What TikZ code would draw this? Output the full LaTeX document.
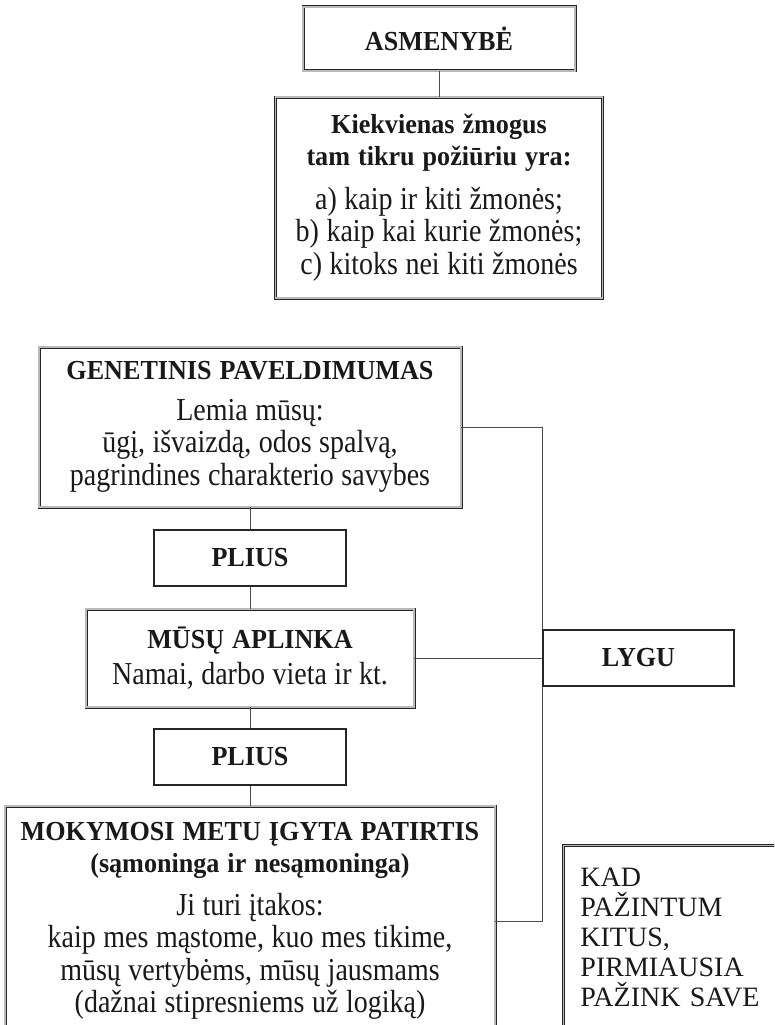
\documentclass[tikz,border=0pt]{standalone}
\usepackage{fontspec}
\setmainfont{Liberation Serif}[FakeStretch=0.875]
\newfontfamily\hdfont{Liberation Serif}[FakeStretch=0.95]
\newfontfamily\kadfont{Liberation Serif}
\usetikzlibrary{positioning}

\newcommand{\bodyfont}{\fontsize{32}{32.5}\selectfont\spaceskip=7.5pt plus 1pt\relax}
\newcommand{\kadtext}{\kadfont\fontsize{28}{30}\selectfont\spaceskip=6pt\relax}
\newcommand{\hd}[1]{{\hdfont\fontsize{27.5}{31}\selectfont\bfseries\spaceskip=8pt\relax #1}}

\begin{document}
\begin{tikzpicture}[x=1pt,y=-1pt,
  every node/.style={text=black!90, inner sep=0pt, align=flush center, font=\bodyfont},
  dbox/.style={draw=black!85, double=gray!55, double distance=1.2pt, line width=0.9pt},
  sbox/.style={draw=black!85, line width=1.1pt},
  link/.style={draw=black!70, line width=0.9pt}]

\useasboundingbox (0,0) rectangle (774,1025);
\clip (0,0) rectangle (774,1025);

% define the boxes
  \node[dbox, text width=272pt, minimum height=64pt] (asm) at (439,39)
{\hd{ASMENYBĖ}};
  \node[dbox, text width=327pt, minimum height=201pt, node distance=158.5pt, below of=asm] (kiek)
{\hd{Kiekvienas žmogus}\\ \hd{tam tikru požiūriu yra:}\\[11pt]
 a) kaip ir kiti žmonės;\\ b) kaip kai kurie žmonės;\\ c) kitoks nei kiti žmonės};
  \node[dbox, text width=422pt, minimum height=160pt] (gen) at (250,427)
{\hd{GENETINIS PAVELDIMUMAS}\\[8pt] Lemia mūsų:\\ ūgį, išvaizdą, odos spalvą,\\ pagrindines charakterio savybes};
  \node[sbox, text width=192pt, minimum height=56pt, node distance=131pt, below of=gen] (plius1)
{\hd{PLIUS}};
  \node[dbox, text width=328pt, minimum height=98pt, node distance=100pt, below of=plius1] (musu)
{\hd{MŪSŲ APLINKA}\\[3pt] Namai, darbo vieta ir kt.};
  \node[sbox, text width=192pt, minimum height=56pt, node distance=99pt, below of=musu] (plius2)
{\hd{PLIUS}};
  \node[dbox, text width=490pt, minimum height=230pt, node distance=164pt, below of=plius2] (mok)
{\hd{MOKYMOSI METU ĮGYTA PATIRTIS}\\ \hd{(sąmoninga ir nesąmoninga)}\\[10pt]
 Ji turi įtakos:\\ kaip mes mąstome, kuo mes tikime,\\ mūsų vertybėms, mūsų jausmams\\ (dažnai stipresniems už logiką)};
  \node[sbox, text width=191pt, minimum height=56pt, node distance=388.5pt, right of=musu] (lygu)
{\hd{LYGU}};
  \node[dbox, anchor=north west, align=left, text width=230pt, inner xsep=17pt, minimum height=184pt,
        font=\kadtext] (kad) at (563,845)
{KAD\\ PAŽINTUM\\ KITUS,\\ PIRMIAUSIA\\ PAŽINK SAVE};

% define the links
  \path[link] (asm) edge (kiek)
        (gen) edge (plius1)
        (plius1) edge (musu)
        (musu) edge (plius2)
        (plius2) edge (mok)
        (musu) edge (lygu);
  \draw[link] (gen.east) -| (lygu.north west);
  \draw[link] (mok.east) -| (lygu.south west);

\end{tikzpicture}
\end{document}
